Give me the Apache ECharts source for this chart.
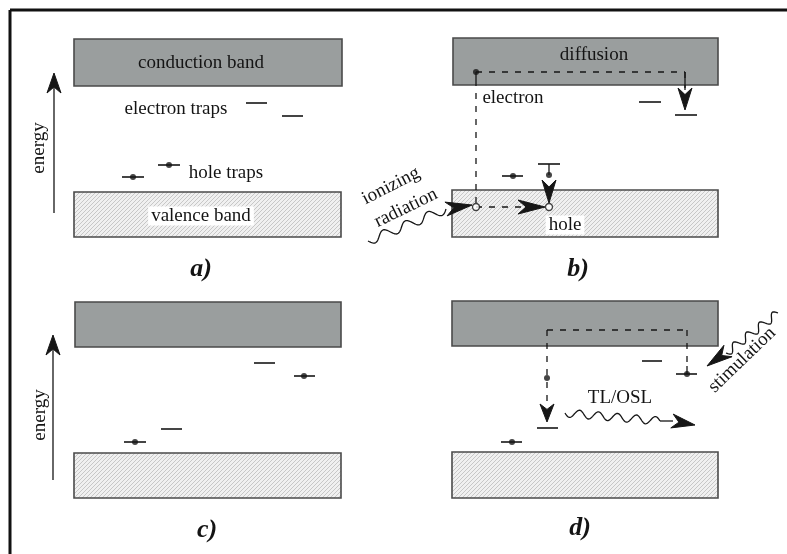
<!DOCTYPE html>
<html><head><meta charset="utf-8">
<script src="https://cdn.jsdelivr.net/npm/echarts@6/dist/echarts.min.js"></script>
<style>html,body{margin:0;padding:0;background:#fff}#c{width:787px;height:554px}</style>
</head><body><div id="c"></div>
<script>
// ---- data (diagram coordinates, pixels of the 787x554 canvas) ----
const bands = [ // x0,y0,x1,y1, kind
  [74,39,342,86,'cb'],[74,192,341,237,'vb'],
  [453,38,718,85,'cb'],[452,190,718,237,'vb'],
  [75,302,341,347,'cb'],[74,453,341,498,'vb'],
  [452,301,718,346,'cb'],[452,452,718,498,'vb']
];
const trapLevels = [ // x0,x1,y
  [246,267,103],[282,303,116],[122,144,177],[158,180,165],
  [639,661,102],[675,697,115],[502,523,176],[538,560,164],
  [254,275,363],[294,315,376],[124,146,442],[161,182,429],
  [642,662,361],[676,697,374],[537,558,428],[501,522,442]
];
const electrons = [[133,177],[169,165],[476,72],[513,176],[549,175],[304,376],[135,442],[547,378],[687,374],[512,442]];
const holes = [[476,207],[549,207]];
const solidLines = [ // x0,y0,x1,y1
  [54,213,54,88],[53,480,53,350],[549,164,549,175],[476,72,476,80],[685,72,685,88],[687,366,687,374]
];
const dashedLines = [
  [476,72,685,72],[476,80,476,207],[685,72,685,90],[476,207,522,207],
  [547,330,687,330],[547,330,547,405],[687,330,687,366]
];
const arrowHeads = [ // tipX,tipY,fromX,fromY
  [54,73,54,93],[53,335,53,355],
  [685,110,685,88],[549,203,549,180],[545,207,518,207],[472,205,446,209],
  [547,422,547,404],[695,425,672,421],[707,366,728,351]
];
const waves = [ // x0,y0,x1,y1,cycles,amplitude
  [368,241,446,209,3.5,4.5],
  [565,413,660,421,5,4],
  [778,313,726,353,4,4]
];
const tailLines = [[660,421,673,421]];
const labels = [ // text, x, y, rotation(deg), kind
  ['conduction band',201,63,0,'n'],
  ['electron traps',176,109,0,'n'],
  ['hole traps',226,173,0,'n'],
  ['valence band',201,216,0,'w'],
  ['energy',39,148,90,'n'],
  ['a)',201,269,0,'b'],
  ['diffusion',594,55,0,'n'],
  ['electron',513,98,0,'n'],
  ['hole',565,225,0,'w'],
  ['ionizing',391,186,27,'n'],
  ['radiation',406,208,26,'n'],
  ['b)',578,269,0,'b'],
  ['energy',40,415,90,'n'],
  ['c)',207,530,0,'b'],
  ['TL/OSL',620,398,0,'n'],
  ['stimulation',742,360,44,'n'],
  ['d)',580,528,0,'b']
];
const frame = [[10,554,10,10],[10,10,787,10]];

// ---- hatch pattern ----
const pc = document.createElement('canvas');
pc.width = 4; pc.height = 4;
const pctx = pc.getContext('2d');
pctx.fillStyle = '#f0f0f0'; pctx.fillRect(0,0,4,4);
pctx.strokeStyle = '#c2c2c2'; pctx.lineWidth = 0.9;
pctx.beginPath(); pctx.moveTo(0,4); pctx.lineTo(4,0); pctx.moveTo(-1,1); pctx.lineTo(1,-1); pctx.moveTo(3,5); pctx.lineTo(5,3); pctx.stroke();
const hatch = {image: pc, repeat: 'repeat'};

const INK = '#161616';
const FONT = '"Liberation Serif","DejaVu Serif",serif';

function segSeries(list, style, z) {
  return {
    type:'custom', z: z, silent:true,
    data: list.map(s => [s[0],s[1],s[2],s[3]]),
    renderItem: (p, api) => {
      const a = api.coord([api.value(0), api.value(1)]);
      const b = api.coord([api.value(2), api.value(3)]);
      return {type:'line', shape:{x1:a[0],y1:a[1],x2:b[0],y2:b[1]}, style: style};
    }
  };
}

const option = {
  animation:false,
  grid:{left:0,right:0,top:0,bottom:0},
  xAxis:{type:'value',min:0,max:787,show:false},
  yAxis:{type:'value',min:0,max:554,inverse:true,show:false},
  series:[
    {
      type:'custom', z:1, silent:true,
      data: bands.map(b => [b[0],b[1],b[2],b[3]]),
      renderItem:(p, api) => {
        const a = api.coord([api.value(0), api.value(1)]);
        const b = api.coord([api.value(2), api.value(3)]);
        const cb = bands[p.dataIndex][4] === 'cb';
        return {type:'rect', shape:{x:a[0],y:a[1],width:b[0]-a[0],height:b[1]-a[1]},
          style:{fill: cb ? '#9a9e9e' : hatch, stroke:'#4a4a4a', lineWidth:1.6}};
      }
    },
    segSeries(frame, {stroke:'#111', lineWidth:3}, 2),
    segSeries(trapLevels.map(t => [t[0],t[2],t[1],t[2]]), {stroke:INK, lineWidth:1.6}, 3),
    segSeries(solidLines, {stroke:INK, lineWidth:1.3}, 3),
    segSeries(dashedLines, {stroke:INK, lineWidth:1.3, lineDash:[6,7]}, 3),
    segSeries(tailLines, {stroke:INK, lineWidth:1.3}, 3),
    {
      type:'custom', z:4, silent:true,
      data: waves.map(w => [w[0],w[1],w[2],w[3]]),
      renderItem:(p, api) => {
        const w = waves[p.dataIndex];
        const a = api.coord([w[0],w[1]]);
        const b = api.coord([w[2],w[3]]);
        const dx=b[0]-a[0], dy=b[1]-a[1], L=Math.hypot(dx,dy);
        const nx=-dy/L, ny=dx/L;
        const N=120, pts=[];
        for (let i=0;i<=N;i++){
          const t=i/N, s=w[5]*Math.sin(2*Math.PI*w[4]*t);
          pts.push([a[0]+dx*t+nx*s, a[1]+dy*t+ny*s]);
        }
        return {type:'polyline', shape:{points:pts}, style:{stroke:INK, lineWidth:1.3, fill:null}};
      }
    },
    {
      type:'custom', z:5, silent:true,
      data: arrowHeads.map(h => [h[0],h[1],h[2],h[3]]),
      renderItem:(p, api) => {
        const t = api.coord([api.value(0), api.value(1)]);
        const f = api.coord([api.value(2), api.value(3)]);
        const dx=t[0]-f[0], dy=t[1]-f[1], L=Math.hypot(dx,dy);
        const ux=dx/L, uy=dy/L, nx=-uy, ny=ux, w=7;
        const pts=[[t[0],t[1]],[f[0]+nx*w,f[1]+ny*w],[f[0]+ux*L*0.3,f[1]+uy*L*0.3],[f[0]-nx*w,f[1]-ny*w]];
        return {type:'polygon', shape:{points:pts}, style:{fill:INK, stroke:INK, lineWidth:1}};
      }
    },
    {
      type:'scatter', z:6, silent:true, symbol:'circle', symbolSize:6,
      itemStyle:{color:INK}, data: electrons
    },
    {
      type:'scatter', z:6, silent:true, symbol:'circle', symbolSize:7,
      itemStyle:{color:'#fff', borderColor:INK, borderWidth:1.3}, data: holes
    },
    {
      type:'custom', z:7, silent:true,
      data: labels.map(l => [l[1],l[2]]),
      renderItem:(p, api) => {
        const l = labels[p.dataIndex];
        const c = api.coord([api.value(0), api.value(1)]);
        const bold = l[4]==='b';
        const st = {text:l[0], fill:'#141414', align:'center', verticalAlign:'middle',
          font: bold ? ('italic bold 26px ' + FONT) : ('19px ' + FONT)};
        if (l[4]==='w') { st.backgroundColor = '#fff'; st.padding = [0,3,0,3]; }
        return {type:'text', x:c[0], y:c[1], rotation: l[3]*Math.PI/180, style: st};
      }
    }
  ]
};
const chart = echarts.init(document.getElementById('c'), null, {renderer:'canvas'});
chart.setOption(option);
</script></body></html>
